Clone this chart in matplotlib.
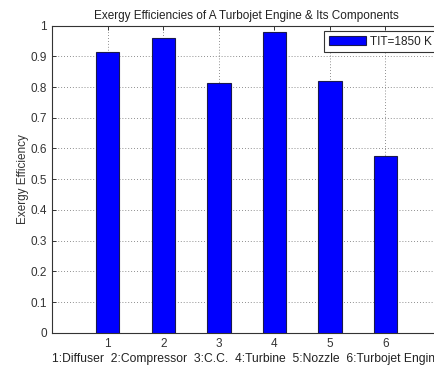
import matplotlib
matplotlib.use("Agg")
import matplotlib.pyplot as plt

# Exergy efficiency of each component and of the whole engine
components = ["1", "2", "3", "4", "5", "6"]
positions = [1, 2, 3, 4, 5, 6]
efficiency = [0.913, 0.960, 0.813, 0.978, 0.821, 0.577]
series_label = "TIT=1850 K"
y_ticks = [0, 0.1, 0.2, 0.3, 0.4, 0.5, 0.6, 0.7, 0.8, 0.9, 1]
y_tick_labels = ["0", "0.1", "0.2", "0.3", "0.4", "0.5", "0.6", "0.7", "0.8", "0.9", "1"]
x_caption = "1:Diffuser  2:Compressor  3:C.C.  4:Turbine  5:Nozzle  6:Turbojet Engine"

plt.rcParams["font.family"] = ["Liberation Sans", "DejaVu Sans"]
plt.rcParams["font.size"] = 8

fig = plt.figure(figsize=(4.35, 3.68), dpi=100)
ax = fig.add_axes([0.1202, 0.0959, 0.8936, 0.8343])

ax.bar(positions, efficiency, width=0.42, color="#0000ff", edgecolor="#1a1a4d",
       linewidth=0.8, label=series_label, zorder=3)

ax.set_xlim(0, 7)
ax.set_ylim(0, 1)
ax.set_xticks(positions)
ax.set_xticklabels(components)
ax.set_yticks(y_ticks)
ax.set_yticklabels(y_tick_labels)

ax.grid(True, linestyle=(0, (1, 2.5)), color="#6a6a6a", linewidth=0.6, zorder=0)
ax.set_axisbelow(True)

ax.tick_params(direction="in", length=3, width=0.7, colors="#333333",
               labelcolor="#333333", top=True, right=True, labelsize=8.5, pad=4)
for s in ax.spines.values():
    s.set_color("#333333")
    s.set_linewidth(0.8)

ax.set_title("Exergy Efficiencies of A Turbojet Engine & Its Components",
             fontsize=8.5, color="#222222", pad=5)
ax.set_ylabel("Exergy Efficiency", fontsize=8.5, color="#333333", labelpad=1)
ax.set_xlabel(x_caption, fontsize=8.75, color="#222222", labelpad=2)

leg = ax.legend(loc="upper left", bbox_to_anchor=(0.699, 0.983), fancybox=False,
                framealpha=1, edgecolor="#333333", handlelength=3.2,
                handleheight=0.9, borderpad=0.4, handletextpad=0.3,
                fontsize=8.5, borderaxespad=0)
leg.get_frame().set_linewidth(0.8)
for t in leg.get_texts():
    t.set_color("#222222")

fig.savefig("out.png", dpi=100)
